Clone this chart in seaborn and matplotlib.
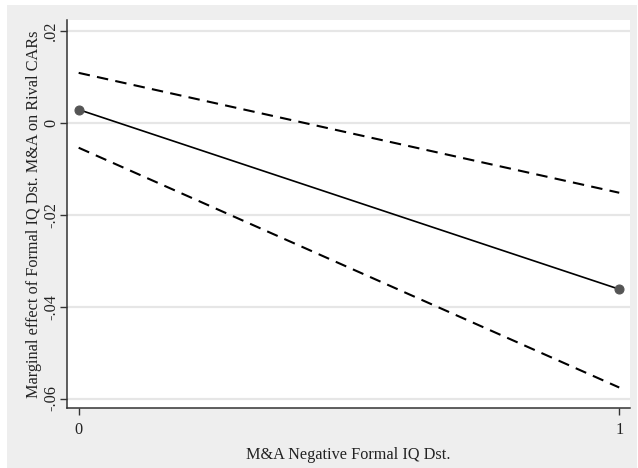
import numpy as np
import pandas as pd
import seaborn as sns
import matplotlib.pyplot as plt
from matplotlib.patches import Rectangle

# values
x_vals = [0, 1]
estimate = [0.0029, -0.0362]
ci_lower = [-0.0054, -0.0576]
ci_upper = [0.0109, -0.0152]
y_ticks = [0.02, 0, -0.02, -0.04, -0.06]
y_tick_labels = ['.02', '0', '-.02', '-.04', '-.06']
x_ticks = [0, 1]

df = pd.DataFrame({'x': x_vals, 'est': estimate, 'lo': ci_lower, 'hi': ci_upper})

sns.set_theme(style='white')
plt.rcParams['font.family'] = ['Liberation Serif', 'DejaVu Serif']

fig = plt.figure(figsize=(6.38, 4.68), dpi=100, facecolor='white')
# stata-like gray panel behind the axes
fig.patches.append(Rectangle((7 / 638, 0), 630 / 638, 463 / 468, transform=fig.transFigure,
                             facecolor='#eeeeee', edgecolor='none', zorder=-5))
ax = fig.add_axes([0.1055, 0.1288, 0.8812, 0.8274])
ax.set_facecolor('white')

for yt in y_ticks:
    ax.axhline(yt, color='#e6e6e6', lw=1.6, zorder=0)

sns.lineplot(data=df, x='x', y='hi', ax=ax, color='black', lw=1.5, linestyle=(0, (5.5, 3.5)))
sns.lineplot(data=df, x='x', y='lo', ax=ax, color='black', lw=1.5, linestyle=(0, (5.5, 3.5)))
sns.lineplot(data=df, x='x', y='est', ax=ax, color='black', lw=1.2, marker='o',
             markersize=6.5, markerfacecolor='#555555', markeredgecolor='#555555')

ax.set_xlim(-0.021, 1.019)
ax.set_ylim(-0.062, 0.0223)
ax.set_yticks(y_ticks)
ax.set_yticklabels(y_tick_labels, rotation=90, va='center')
ax.set_xticks(x_ticks)
ax.set_xticklabels(['0', '1'])
ax.tick_params(axis='both', direction='out', length=5, width=1, color='#333333',
               labelsize=11.7, labelcolor='#222222', left=True, bottom=True)
ax.tick_params(axis='x', pad=5)
ax.tick_params(axis='y', pad=1)

for s in ['top', 'right']:
    ax.spines[s].set_visible(False)
for s in ['left', 'bottom']:
    ax.spines[s].set_color('#333333')
    ax.spines[s].set_linewidth(1.1)

ax.set_xlabel('M&A Negative Formal IQ Dst.', fontsize=11.7, color='#222222', labelpad=6.5)
ax.set_ylabel('Marginal effect of Formal IQ Dst. M&A on Rival CARs', fontsize=11.7,
              color='#222222', labelpad=1)

fig.savefig('out.png', dpi=100, facecolor='white')
